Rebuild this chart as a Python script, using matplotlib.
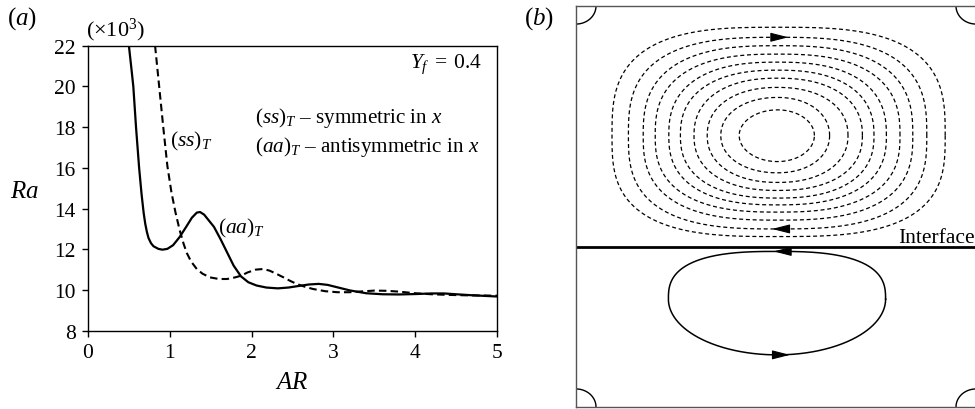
import numpy as np
import matplotlib
matplotlib.use("Agg")
import matplotlib.pyplot as plt

plt.rcParams['font.family'] = ['Liberation Serif', 'DejaVu Serif']
plt.rcParams['mathtext.fontset'] = 'custom'
plt.rcParams['mathtext.rm'] = 'Liberation Serif'
plt.rcParams['mathtext.it'] = 'Liberation Serif:italic'
plt.rcParams['mathtext.fallback'] = 'stix'

# ---------------- data: panel (a) ----------------
ar_aa = [0.50, 0.53, 0.554, 0.587, 0.625, 0.655, 0.68, 0.70, 0.72, 0.74, 0.77, 0.80, 0.86,
         0.91, 0.97, 1.04, 1.12, 1.20, 1.27, 1.33, 1.37, 1.42, 1.48, 1.54, 1.62, 1.70,
         1.78, 1.87, 1.96, 2.06, 2.18, 2.32, 2.45, 2.58, 2.70, 2.82, 2.93, 3.05, 3.20,
         3.40, 3.60, 3.80, 4.00, 4.20, 4.35, 4.50, 4.70, 4.85, 5.00]
ra_aa = [22.0, 20.9, 20.0, 18.0, 16.0, 14.7, 13.8, 13.25, 12.85, 12.55, 12.3, 12.15, 12.02,
         11.98, 12.02, 12.2, 12.6, 13.1, 13.55, 13.8, 13.83, 13.7, 13.4, 13.1, 12.5, 11.85,
         11.2, 10.67, 10.38, 10.22, 10.12, 10.08, 10.12, 10.2, 10.27, 10.3, 10.25, 10.13, 9.98,
         9.84, 9.79, 9.78, 9.80, 9.83, 9.83, 9.79, 9.74, 9.71, 9.68]

ar_ss = [0.82, 0.845, 0.87, 0.92, 0.97, 1.02, 1.07, 1.12, 1.17, 1.21, 1.26, 1.33, 1.40,
         1.49, 1.60, 1.70, 1.80, 1.87, 1.95, 2.05, 2.14, 2.22, 2.30, 2.39, 2.47, 2.55,
         2.65, 2.75, 2.90, 3.05, 3.20, 3.35, 3.50, 3.65, 3.80, 4.00, 4.20, 4.40, 4.60,
         4.80, 5.00]
ra_ss = [22.0, 21.0, 20.0, 18.0, 16.1, 14.8, 13.8, 12.95, 12.25, 11.8, 11.4, 11.03, 10.8,
         10.62, 10.54, 10.54, 10.62, 10.7, 10.86, 11.0, 11.03, 10.95, 10.8, 10.62, 10.45, 10.3,
         10.16, 10.05, 9.94, 9.89, 9.89, 9.93, 9.97, 9.96, 9.92, 9.84, 9.79, 9.76, 9.74,
         9.73, 9.72]

x_ticks = [0, 1, 2, 3, 4, 5]
y_ticks = [8, 10, 12, 14, 16, 18, 20, 22]

# ---------------- data: panel (b) (streamline extents, box units) ----------------
interface_y = 0.399
upper_cx, upper_cy = 0.504, 0.677
upper_left = [0.408, 0.362, 0.328, 0.295, 0.261, 0.232, 0.198, 0.168, 0.131, 0.090]
upper_right = [0.596, 0.634, 0.680, 0.716, 0.745, 0.776, 0.810, 0.842, 0.877, 0.923]
upper_top = [0.741, 0.772, 0.797, 0.820, 0.840, 0.860, 0.880, 0.901, 0.922, 0.947]
upper_bottom = [0.612, 0.584, 0.560, 0.540, 0.521, 0.504, 0.486, 0.466, 0.444, 0.425]
upper_expo = [2.0, 2.1, 2.2, 2.3, 2.4, 2.5, 2.6, 2.7, 2.85, 3.0]

lower_cx, lower_cy = 0.503, 0.269
lower_left, lower_right, lower_top, lower_bottom = 0.231, 0.774, 0.388, 0.130
lower_expo_top, lower_expo_bottom = 2.7, 2.0

corner_rx, corner_ry = 0.05, 0.045

W, H = 975, 410
fig = plt.figure(figsize=(W / 100, H / 100), dpi=100)


def fx(x):
    return x / W


def fy(y):
    return 1 - y / H


# ---------------- panel (a) ----------------
ax = fig.add_axes([fx(88), fy(331.7), 409 / W, (331.7 - 46.7) / H])
ax.plot(ar_aa, ra_aa, color='black', lw=1.6, solid_joinstyle='round')
ax.plot(ar_ss, ra_ss, color='black', lw=1.5, dashes=(3.6, 2.0))
ax.set_xlim(0, 5)
ax.set_ylim(8, 22)
ax.set_xticks(x_ticks)
ax.set_yticks(y_ticks)
ax.tick_params(direction='out', length=4, width=1, labelsize=15.5, pad=5,
               top=False, right=False)
for s in ax.spines.values():
    s.set_linewidth(1.0)

fig.text(fx(22), fy(19), '$(a)$', fontsize=18, ha='center', va='center')
fig.text(fx(539), fy(19), '$(b)$', fontsize=18, ha='center', va='center')
fig.text(fx(86), fy(30), r'$(\times 10^3)$', fontsize=16, ha='left', va='center')
fig.text(fx(24), fy(192), '$Ra$', fontsize=18, ha='center', va='center')
fig.text(fx(292), fy(383), '$AR$', fontsize=18, ha='center', va='center')
fig.text(fx(482), fy(68.3), r'$Y_f\;=\;0.4$', fontsize=15.5, ha='right', va='baseline')
fig.text(fx(255), fy(123.3), '$(ss)_T$ – symmetric in $x$', fontsize=15.2,
         ha='left', va='baseline')
fig.text(fx(255), fy(151.7), '$(aa)_T$ – antisymmetric in $x$', fontsize=15.2,
         ha='left', va='baseline')
fig.text(fx(170), fy(146.7), '$(ss)_T$', fontsize=15.5, ha='left', va='baseline')
fig.text(fx(218), fy(233.3), '$(aa)_T$', fontsize=15.5, ha='left', va='baseline')

# ---------------- panel (b) ----------------
bx = fig.add_axes([fx(576), fy(408), 400 / W, 401 / H])
bx.set_xlim(0, 1)
bx.set_ylim(0, 1)
bx.set_xticks([])
bx.set_yticks([])
for s in bx.spines.values():
    s.set_linewidth(1.0)
    s.set_color('#555555')
bx.spines['right'].set_visible(False)


def loop(cx, cy, left, right, top, bottom, n_top, n_bot):
    t = np.linspace(0, 2 * np.pi, 721)
    c, s = np.cos(t), np.sin(t)
    xs, ys = [], []
    for ci, si in zip(c, s):
        n = n_top if si >= 0 else n_bot
        a = (right - cx) if ci >= 0 else (cx - left)
        b = (top - cy) if si >= 0 else (cy - bottom)
        xs.append(cx + a * np.sign(ci) * abs(ci) ** (2 / n))
        ys.append(cy + b * np.sign(si) * abs(si) ** (2 / n))
    return xs, ys


for l, r, t_, b_, n in zip(upper_left, upper_right, upper_top, upper_bottom, upper_expo):
    xs, ys = loop(upper_cx, upper_cy, l, r, t_, b_, n, n)
    bx.plot(xs, ys, color='black', lw=0.9, dashes=(3.2, 2.2))

xs, ys = loop(lower_cx, lower_cy, lower_left, lower_right, lower_top, lower_bottom,
              lower_expo_top, lower_expo_bottom)
bx.plot(xs, ys, color='black', lw=1.1)

# interface
bx.plot([0, 1], [interface_y, interface_y], color='black', lw=2.0, solid_capstyle='butt')
fig.text(fx(975), fy(243.5), 'Interface', fontsize=15.5, ha='right', va='baseline')

# corner eddies
tt = np.linspace(0, np.pi / 2, 60)
for (x0, y0, sx, sy) in [(0, 1, 1, -1), (1, 1, -1, -1), (0, 0, 1, 1), (1, 0, -1, 1)]:
    bx.plot(x0 + sx * corner_rx * np.cos(tt), y0 + sy * corner_ry * np.sin(tt),
            color='black', lw=1.0)

# arrows
arr = dict(arrowstyle='-|>,head_length=0.55,head_width=0.14', color='black',
           lw=0.8, shrinkA=0, shrinkB=0, mutation_scale=20)
bx.annotate('', xy=(0.531, upper_top[8]), xytext=(0.492, upper_top[8]), arrowprops=arr)
bx.annotate('', xy=(0.490, upper_bottom[8]), xytext=(0.529, upper_bottom[8]), arrowprops=arr)
bx.annotate('', xy=(0.494, lower_top), xytext=(0.533, lower_top), arrowprops=arr)
bx.annotate('', xy=(0.535, lower_bottom), xytext=(0.496, lower_bottom), arrowprops=arr)

fig.savefig('out.png', dpi=100)
